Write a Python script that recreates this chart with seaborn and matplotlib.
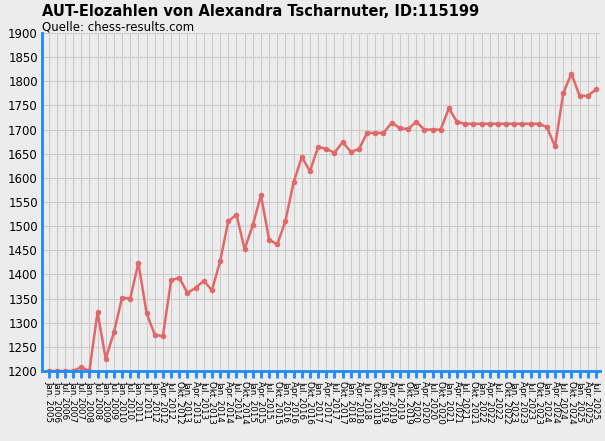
import matplotlib
matplotlib.use("Agg")
import matplotlib.pyplot as plt
import seaborn as sns
import pandas as pd

labels = ["Jan. 2005","Jan. 2006","Jul. 2006","Jan. 2007","Jul. 2007","Jan. 2008","Jul. 2008",
          "Jan. 2009","Jul. 2009","Jan. 2010","Jul. 2010","Jan. 2011","Jul. 2011"]
for y in range(2012, 2026):
    for m in ["Jan.","Apr.","Jul.","Okt."]:
        if y == 2025 and m == "Okt.":
            break
        labels.append(f"{m} {y}")

elo = [1200,1200,1200,1200,1208,1200,1322,1225,1280,1352,1350,1424,1320,
       1275,1272,1388,1393,1362,1372,1387,1367,1427,1510,1524,1452,1502,1564,1472,1462,
       1511,1591,1643,1614,1664,1660,1652,1674,1654,1660,1693,1693,1693,1714,1703,1701,
       1716,1700,1700,1700,1744,1716,1712,1712,1712,1712,1712,1712,1712,1712,1712,1712,
       1705,1665,1775,1816,1770,1770,1783]

df = pd.DataFrame({"i": range(len(elo)), "elo": elo})

bg = "#ececec"
fig = plt.figure(figsize=(6.05, 4.41), dpi=100, facecolor=bg)
ax = fig.add_axes([42/605, 70/441, 558/605, 338/441], facecolor=bg)
sns.lineplot(data=df, x="i", y="elo", ax=ax, color="#e06868", linewidth=1.8,
             marker="o", markersize=4, markeredgewidth=0)
ax.set_xlim(-0.8, len(elo) - 0.5)
ax.set_ylim(1200, 1900)
ax.set_yticks(range(1200, 1901, 50))
ax.set_xticks(range(len(labels)))
ax.set_xticklabels(labels, rotation=-90, fontsize=6.3, va="top", ha="center")
ax.tick_params(axis="y", labelsize=8.5, length=0, pad=3)
ax.tick_params(axis="x", length=5, width=2, color="#1e88ff", pad=2)
ax.grid(True, color="#cccccc", linewidth=0.8)
ax.set_axisbelow(True)
for s in ["top", "right"]:
    ax.spines[s].set_visible(False)
for s in ["left", "bottom"]:
    ax.spines[s].set_color("#1e88ff")
    ax.spines[s].set_linewidth(2)
ax.set_xlabel("")
ax.set_ylabel("")
fig.text(42/605, 1 - 12/441, "AUT-Elozahlen von Alexandra Tscharnuter, ID:115199",
         fontsize=10.5, fontweight="bold", va="center")
fig.text(42/605, 1 - 27/441, "Quelle: chess-results.com", fontsize=8.5, va="center")
fig.savefig("out.png", dpi=100, facecolor=bg)
